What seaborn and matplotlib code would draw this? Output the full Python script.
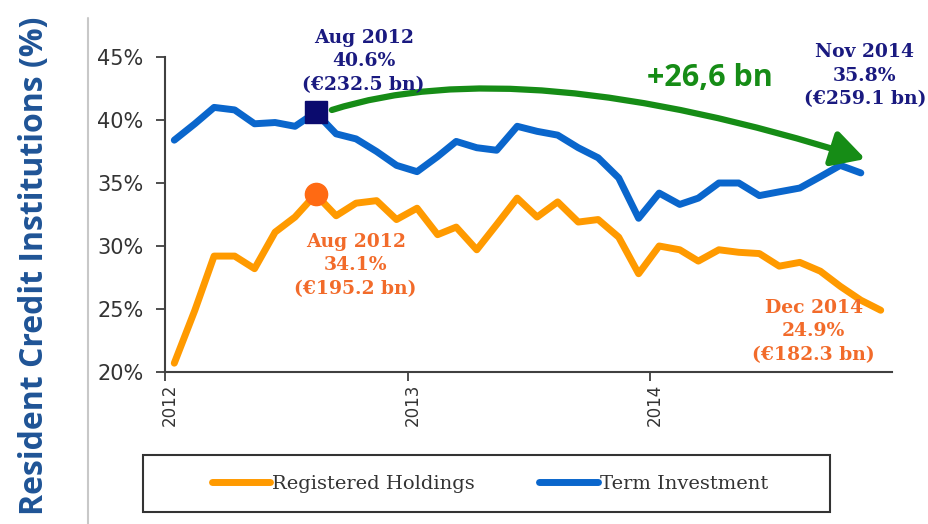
import numpy as np
import pandas as pd
import matplotlib
matplotlib.use("Agg")
import matplotlib.pyplot as plt
import matplotlib.dates as mdates
import matplotlib.transforms as mtransforms
from matplotlib.patches import FancyArrowPatch, Rectangle
from matplotlib.path import Path
from matplotlib.lines import Line2D
import seaborn as sns

# Monthly share of holdings by resident credit institutions (%)
months = pd.date_range("2012-01-01", "2014-12-01", freq="MS")
registered_holdings = [20.7, 24.9, 29.2, 29.2, 28.2, 31.1, 32.3, 34.1, 32.4, 33.4, 33.6, 32.1,
                       33.0, 30.9, 31.5, 29.7, 31.7, 33.8, 32.3, 33.5, 31.9, 32.1, 30.7, 27.8,
                       30.0, 29.7, 28.8, 29.7, 29.5, 29.4, 28.4, 28.7, 28.0, 26.8, 25.7, 24.9]
term_investment = [38.4, 39.7, 41.0, 40.8, 39.7, 39.8, 39.5, 40.6, 38.9, 38.5, 37.5, 36.4,
                   35.9, 37.1, 38.3, 37.8, 37.6, 39.5, 39.1, 38.8, 37.8, 37.0, 35.4, 32.2,
                   34.2, 33.3, 33.8, 35.0, 35.0, 34.0, 34.3, 34.6, 35.5, 36.4, 35.8, np.nan]
series_names = ["Registered Holdings", "Term Investment"]
series_colors = ["#FF9A00", "#0A66CC"]
y_ticks = [20, 25, 30, 35, 40, 45]
x_ticks = ["2012", "2013", "2014"]

# Highlighted points: (series, month index, label month, amount in bn EUR)
highlights = [
    ("Term Investment", 7, "Aug 2012", 232.5),
    ("Term Investment", 34, "Nov 2014", 259.1),
    ("Registered Holdings", 7, "Aug 2012", 195.2),
    ("Registered Holdings", 35, "Dec 2014", 182.3),
]
change_label = "+26,6 bn"

sns.set_style("ticks")
plt.rcParams["font.family"] = ["DejaVu Sans"]

values = {"Registered Holdings": registered_holdings, "Term Investment": term_investment}
dates = months + pd.Timedelta(days=14)
df = pd.DataFrame({"date": dates, **values}).melt(
    id_vars="date", var_name="series", value_name="share")

W, H = 929, 524
fig = plt.figure(figsize=(W / 100, H / 100), dpi=100)
ax = fig.add_axes([165 / W, 1 - 372 / H, (892 - 165) / W, (372 - 57) / H])

sns.lineplot(data=df, x="date", y="share", hue="series",
             palette=dict(zip(series_names, series_colors)),
             linewidth=5, legend=False, ax=ax, solid_capstyle="round")

ax.set_xlim(pd.Timestamp("2012-01-01"), pd.Timestamp("2015-01-01"))
ax.set_ylim(20, 45)
ax.set_yticks(y_ticks)
ax.set_yticklabels([f"{v}%" for v in y_ticks])
ax.set_xticks([pd.Timestamp(f"{y}-01-01") for y in x_ticks])
ax.set_xticklabels(x_ticks, rotation=90)
ax.set_xlabel("")
ax.set_ylabel("")

for side in ["top", "right"]:
    ax.spines[side].set_visible(False)
for side in ["left", "bottom"]:
    ax.spines[side].set_color("#404040")
    ax.spines[side].set_linewidth(1.5)
ax.tick_params(axis="y", length=6.5, width=1.3, pad=9, labelsize=15,
               labelcolor="#333333", color="#404040")
ax.tick_params(axis="x", length=6.5, width=1.3, pad=2, labelsize=12,
               labelcolor="#333333", color="#404040")
shift = mtransforms.ScaledTranslation(5 / 100, 0, fig.dpi_scale_trans)
for lab in ax.get_xticklabels():
    lab.set_transform(lab.get_transform() + shift)

# Markers and callouts
navy = "#1A1A80"
orange_txt = "#F26B2A"
ax.plot(dates[7], term_investment[7], marker="s", ms=15.5, color="#0B0B6E", zorder=5)
ax.plot(dates[7], registered_holdings[7], marker="o", ms=16, color="#FF6A13", zorder=5)

offsets = [(48, 51), (4, 97), (40, -71), (-67, -21)]
for (name, idx, month_lbl, amount), (dx, dy) in zip(highlights, offsets):
    val = values[name][idx]
    color = navy if name == "Term Investment" else orange_txt
    ax.annotate(f"{month_lbl}\n{val:.1f}%\n(€{amount:.1f} bn)",
                xy=(dates[idx], val), xytext=(dx, dy), textcoords="offset pixels",
                ha="center", va="center", multialignment="center",
                fontsize=13.5, fontweight="bold", color=color,
                family="DejaVu Serif", linespacing=1.4, zorder=6)

# Curved arrow for the change in term investment
def to_data(px, py):
    frac_year = (px - 165) / 242.5
    d = pd.Timestamp("2012-01-01") + pd.Timedelta(days=frac_year * 365.25)
    return mdates.date2num(d), 45 - (py - 57) / 12.6

p0 = to_data(332, 110)
c1 = to_data(521, 50)
p2 = to_data(866, 159)
arc = Path([p0, c1, p2], [Path.MOVETO, Path.CURVE3, Path.CURVE3])
arrow = FancyArrowPatch(path=arc, arrowstyle="-|>,head_length=1.1,head_width=0.6",
                        mutation_scale=18, linewidth=4.5, color="#168C16",
                        clip_on=False, zorder=4)
ax.add_patch(arrow)
fig.text(710 / W, 1 - 78 / H, change_label, ha="center", va="center",
         fontsize=22, fontweight="bold", color="#168C16", family="Open Sans")

# Vertical axis title and separator
fig.text(35 / W, 1 - 266 / H, "Resident Credit Institutions (%)", rotation=90,
         ha="center", va="center", fontsize=23, fontweight="bold",
         color="#1F5496", family="Open Sans")
fig.add_artist(Line2D([88 / W, 88 / W], [0, 1 - 18 / H], color="#C8C8C8",
                      lw=1.5, transform=fig.transFigure))

# Legend with a wide frame
handles = [Line2D([], [], color=c, lw=5, solid_capstyle="round") for c in series_colors]
fig.legend(handles, series_names, loc="center", bbox_to_anchor=(490 / W, 1 - 484 / H),
           ncol=2, frameon=False, handlelength=3.0, handletextpad=0.1,
           columnspacing=3.3, prop={"family": "DejaVu Serif", "size": 14},
           labelcolor="#333333")
fig.add_artist(Rectangle((143 / W, 1 - 512 / H), (830 - 143) / W, (512 - 455) / H,
                         transform=fig.transFigure, fill=False,
                         edgecolor="#333333", linewidth=1.5))

fig.savefig("out.png", dpi=100)
